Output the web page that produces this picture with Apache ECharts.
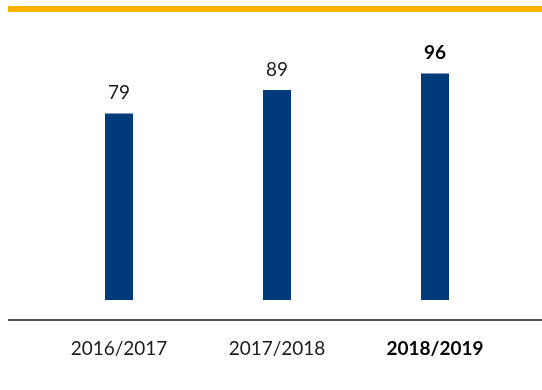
<!DOCTYPE html>
<html>
<head>
<meta charset="utf-8">
<script src="https://cdn.jsdelivr.net/npm/echarts@6/dist/echarts.min.js"></script>
<style>html,body{margin:0;padding:0;background:#fff;}#c{width:542px;height:390px;}</style>
</head>
<body>
<div id="c"></div>
<script>
const categories = ['2016/2017', '2017/2018', '2018/2019'];
const values = [79, 89, 96];
const highlightIndex = 2;

const chart = echarts.init(document.getElementById('c'));
const font = 'Lato, "Noto Sans", sans-serif';
chart.setOption({
  animation: false,
  backgroundColor: '#ffffff',
  grid: { left: 40, right: 28, top: 64, bottom: 90 },
  xAxis: {
    type: 'category',
    data: categories.map((c, i) => i === highlightIndex ? { value: c, textStyle: { fontWeight: 'bold', color: '#000' } } : c),
    axisLine: { show: false },
    axisTick: { show: false },
    axisLabel: { margin: 39, fontSize: 19, color: '#1a1a1a', fontFamily: font }
  },
  yAxis: { type: 'value', min: 0, max: 100, show: false, splitLine: { show: false } },
  series: [{
    type: 'bar',
    barWidth: 28,
    itemStyle: { color: '#003A7A' },
    data: values.map((v, i) => ({
      value: v,
      label: { fontWeight: i === highlightIndex ? 'bold' : 'normal', color: i === highlightIndex ? '#000' : '#1a1a1a' }
    })),
    label: { show: true, position: 'top', distance: 11, fontSize: 19, fontFamily: font }
  }],
  graphic: [
    { type: 'rect', shape: { x: 8, y: 6, width: 534, height: 6 }, style: { fill: '#FDB100' } },
    { type: 'line', shape: { x1: 8, y1: 320, x2: 542, y2: 320 }, style: { stroke: '#1a1a1a', lineWidth: 1.5 } }
  ]
});
</script>
</body>
</html>
